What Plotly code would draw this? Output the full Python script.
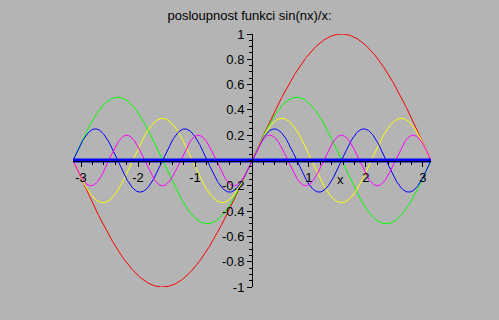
import numpy as np
import plotly.graph_objects as go

# values
freqs = [1, 2, 3, 4, 5]
amps = [1.0, 0.5, 0.3333, 0.25, 0.2]
colors = ["#ff0000", "#00ff00", "#ffff00", "#0000ff", "#ff00ff"]
x_range = [-np.pi, np.pi]
limit_value = 0.0

x_tickvals = [-3, -2, -1, 1, 2, 3]
x_ticktext = ["-3", "-2", "-1", "1", "2", "3"]
y_tickvals = [-1, -0.8, -0.6, -0.4, -0.2, 0.2, 0.4, 0.6, 0.8, 1]
y_ticktext = ["-1", "-0.8", "-0.6", "-0.4", "-0.2", "0.2", "0.4", "0.6", "0.8", "1"]

xs = np.linspace(x_range[0], x_range[1], 600)

fig = go.Figure()
for n, a, c in zip(freqs, amps, colors):
    fig.add_trace(go.Scatter(x=xs, y=a * np.sin(n * xs), mode="lines",
                             line=dict(color=c, width=1), hoverinfo="skip"))
fig.add_trace(go.Scatter(x=x_range, y=[limit_value, limit_value], mode="lines",
                         line=dict(color="#0000ff", width=4), hoverinfo="skip"))

bg = "#b4b4b4"
font = dict(family="Liberation Sans, Arial, sans-serif", size=12, color="black")
fig.update_layout(
    width=499, height=320,
    margin=dict(l=73, r=68, t=34, b=33),
    paper_bgcolor=bg, plot_bgcolor=bg,
    showlegend=False,
    font=font,
    title=dict(text="posloupnost funkci sin(nx)/x:", x=0.5, xanchor="center",
               y=1 - 15 / 320, yanchor="middle", font=dict(size=13)),
    xaxis=dict(range=x_range, anchor="free", position=0.5,
               showgrid=False, zeroline=False, showline=True, linecolor="black", linewidth=1,
               tickvals=x_tickvals, ticktext=x_ticktext, ticks="outside", ticklen=5,
               tickcolor="black", tickfont=dict(size=13),
               minor=dict(dtick=0.2, ticklen=3, tickcolor="black", ticks="outside", showgrid=False)),
    yaxis=dict(range=[-1, 1], anchor="free", position=0.5,
               showgrid=False, zeroline=False, showline=True, linecolor="black", linewidth=1,
               tickvals=y_tickvals, ticktext=y_ticktext, ticks="outside", ticklen=5,
               tickcolor="black", tickfont=dict(size=13),
               minor=dict(dtick=0.05, ticklen=3, tickcolor="black", ticks="outside", showgrid=False)),
    annotations=[dict(x=1.56, y=-0.15, xref="x", yref="y", text="x", showarrow=False,
                      font=dict(size=13))],
)

fig.write_html("out.html")
